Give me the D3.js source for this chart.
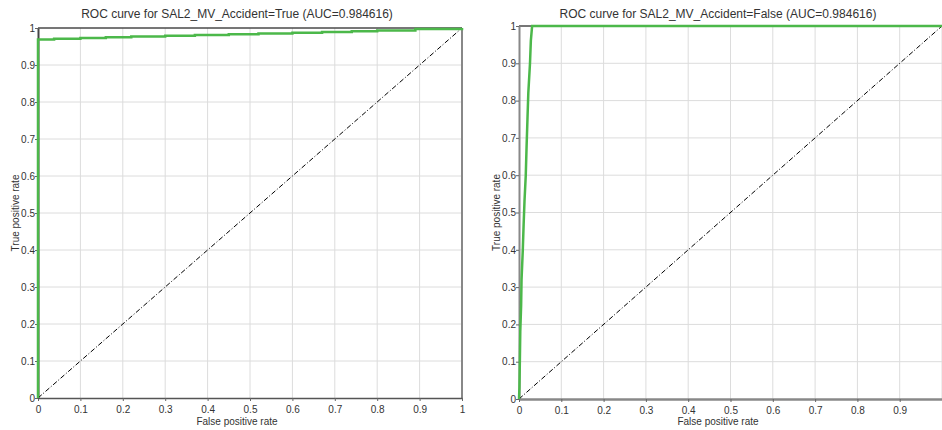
<!DOCTYPE html>
<html><head><meta charset="utf-8">
<script src="https://cdn.jsdelivr.net/npm/d3@7"></script>
<style>body{margin:0;background:#fff;} svg{display:block;font-family:"Liberation Sans",Arial,sans-serif;}</style>
</head><body>
<svg id="c" width="942" height="430"></svg>
<script>
const ticks = [0,0.1,0.2,0.3,0.4,0.5,0.6,0.7,0.8,0.9,1];
const tickLabels = ["0","0.1","0.2","0.3","0.4","0.5","0.6","0.7","0.8","0.9","1"];
const titles = ["ROC curve for SAL2_MV_Accident=True (AUC=0.984616)","ROC curve for SAL2_MV_Accident=False (AUC=0.984616)"];
const xLabel = "False positive rate";
const yLabel = "True positive rate";
// ROC for True
const fprTrue = [0,0,0.038,0.1,0.16,0.22,0.3,0.37,0.45,0.52,0.6,0.67,0.74,0.8,0.89,1.0];
const tprTrue = [0,0.969,0.971,0.973,0.975,0.977,0.979,0.981,0.983,0.985,0.987,0.989,0.991,0.993,0.997,1.0];
// ROC for False
const fprFalse = [0,0.001,0.002,0.003,0.005,0.006,0.009,0.011,0.013,0.016,0.018,0.02,0.022,0.026,0.028,0.031,1.0];
const tprFalse = [0,0.03,0.1,0.18,0.25,0.32,0.4,0.47,0.53,0.6,0.68,0.75,0.82,0.9,0.96,1.0,1.0];

const svg = d3.select("#c");
const green = "#4cb84a";

const panels = [
  {x0:38,x1:462,y0:28,y1:398,titleX:237,fpr:fprTrue,tpr:tprTrue,step:true,xt:ticks,xtl:tickLabels,right:true,yAxisColor:"#444",bottomColor:"#555",bottomW:1.5},
  {x0:519,x1:942,y0:26,y1:399,titleX:718,fpr:fprFalse,tpr:tprFalse,step:false,xt:ticks.slice(0,10),xtl:tickLabels.slice(0,10),right:false,yAxisColor:"#888",bottomColor:"#888",bottomW:2.5}
];

panels.forEach((p,i)=>{
  const x = d3.scaleLinear().domain([0,1]).range([p.x0,p.x1]);
  const y = d3.scaleLinear().domain([0,1]).range([p.y1,p.y0]);
  const g = svg.append("g");
  // grid
  g.selectAll(".vg").data(ticks.slice(1)).enter().append("line")
    .attr("x1",d=>x(d)).attr("x2",d=>x(d)).attr("y1",p.y0).attr("y2",p.y1)
    .attr("stroke","#dcdcdc").attr("stroke-width",1);
  g.selectAll(".hg").data(ticks.slice(1)).enter().append("line")
    .attr("x1",p.x0).attr("x2",p.x1).attr("y1",d=>y(d)).attr("y2",d=>y(d))
    .attr("stroke","#dcdcdc").attr("stroke-width",1);
  // top border
  g.append("line").attr("x1",p.x0).attr("x2",p.x1).attr("y1",p.y0).attr("y2",p.y0).attr("stroke","#000").attr("stroke-width",1);
  if(p.right) g.append("line").attr("x1",p.x1).attr("x2",p.x1).attr("y1",p.y0).attr("y2",p.y1).attr("stroke","#888").attr("stroke-width",2);
  // axes
  const xa = g.append("g").attr("transform",`translate(0,${p.y1})`)
    .call(d3.axisBottom(x).tickValues(p.xt).tickFormat((d,j)=>p.xtl[j]).tickSize(3).tickSizeOuter(0));
  xa.select(".domain").attr("stroke",p.bottomColor).attr("stroke-width",p.bottomW);
  xa.selectAll(".tick line").attr("stroke","#666");
  xa.selectAll("text").attr("fill","#333").attr("font-size","10px").attr("dy","0.9em");
  const ya = g.append("g").attr("transform",`translate(${p.x0},0)`)
    .call(d3.axisLeft(y).tickValues(ticks).tickFormat((d,j)=>tickLabels[j]).tickSize(3).tickSizeOuter(0));
  ya.select(".domain").attr("stroke",p.yAxisColor).attr("stroke-width",2);
  ya.selectAll(".tick line").attr("stroke","#666");
  ya.selectAll("text").attr("fill","#333").attr("font-size","10px").attr("x",-3);
  // diagonal
  g.append("line").attr("x1",x(0)).attr("y1",y(0)).attr("x2",x(1)).attr("y2",y(1))
    .attr("stroke","#000").attr("stroke-width",1).attr("stroke-dasharray","5,2,1,2");
  // curve
  const pts = p.fpr.map((f,j)=>[f,p.tpr[j]]);
  const line = d3.line().x(d=>x(d[0])).y(d=>y(d[1])).curve(p.step?d3.curveStepAfter:d3.curveLinear);
  g.append("path").datum(pts).attr("d",line).attr("fill","none").attr("stroke",green).attr("stroke-width",2.5);
  // labels
  svg.append("text").attr("x",p.titleX).attr("y",18).attr("text-anchor","middle").attr("font-size","12px").attr("fill","#333").text(titles[i]);
  svg.append("text").attr("x",p.titleX).attr("y",425).attr("text-anchor","middle").attr("font-size","10px").attr("fill","#333").text(xLabel);
  const ycx = p.x0-19, ycy=(p.y0+p.y1)/2;
  svg.append("text").attr("transform",`translate(${ycx},${ycy}) rotate(-90)`).attr("text-anchor","middle").attr("font-size","10px").attr("fill","#333").text(yLabel);
});
</script>
</body></html>
